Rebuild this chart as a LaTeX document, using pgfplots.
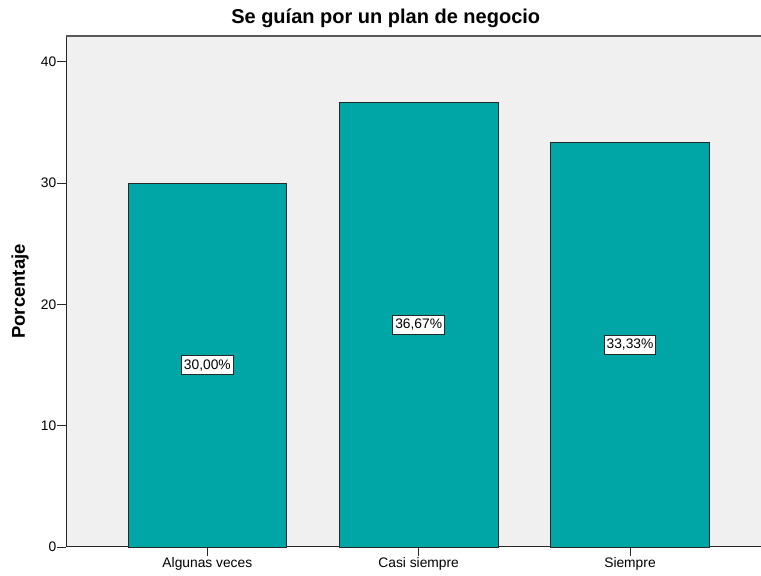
\documentclass[border=0pt]{standalone}
\usepackage{pgfplots}
\pgfplotsset{compat=1.18}
\usepackage{fontspec}
\setmainfont{Liberation Sans}
\definecolor{bgc}{RGB}{240,240,240}
\definecolor{barc}{RGB}{0,165,165}
\definecolor{edgec}{RGB}{40,40,40}
\begin{document}
\begin{tikzpicture}[x=1pt,y=1pt]
\path[use as bounding box] (0,0) rectangle (761,576);
\begin{axis}[
  at={(66pt,29pt)}, anchor=south west,
  scale only axis, width=695pt, height=511pt,
  xmin=-0.669, xmax=2.62, ymin=0, ymax=42.14,
  axis background/.style={fill=bgc},
  axis lines=left,
  axis line style={-, line width=1pt, color=edgec},
  xtick={0,1,2},
  xticklabels={Algunas veces, Casi siempre, Siempre},
  ytick={0,10,20,30,40},
  tick align=outside, major tick length=8.5pt,
  tick style={line width=0.9pt, color=edgec},
  /pgf/number format/assume math mode=true,
  tick label style={font=\fontsize{13.8}{16}\selectfont, inner sep=1pt},
  xticklabel style={yshift=-1pt},
  every axis y label/.style={at={(axis description cs:-0.066,0.5)}, anchor=center, rotate=90},
  ylabel={\bfseries Porcentaje},
  label style={font=\fontsize{18.5}{21}\selectfont},
  every axis title/.style={at={(axis description cs:0.46,1)}, anchor=center, yshift=18pt},
  title={\bfseries Se guían por un plan de negocio},
  title style={font=\fontsize{20}{24}\selectfont},
  clip=false,
]
\addplot[ybar, bar width=158.7pt, fill=barc, draw=edgec, line width=0.9pt]
  coordinates {(0,30.00) (1,36.67) (2,33.33)};
\addplot[draw=none, mark=none, nodes near coords, point meta=explicit symbolic,
  every node near coord/.style={anchor=center, fill=white, draw=edgec, line width=0.8pt,
    inner xsep=2.5pt, inner ysep=4pt, font=\fontsize{13.8}{16}\selectfont}]
  coordinates {(0,15.00) [30,00\%] (1,18.33) [36,67\%] (2,16.67) [33,33\%]};
\draw[gray!70!black, line width=1.2pt] (rel axis cs:0,1) -- (rel axis cs:1,1);
\end{axis}
\end{tikzpicture}
\end{document}
